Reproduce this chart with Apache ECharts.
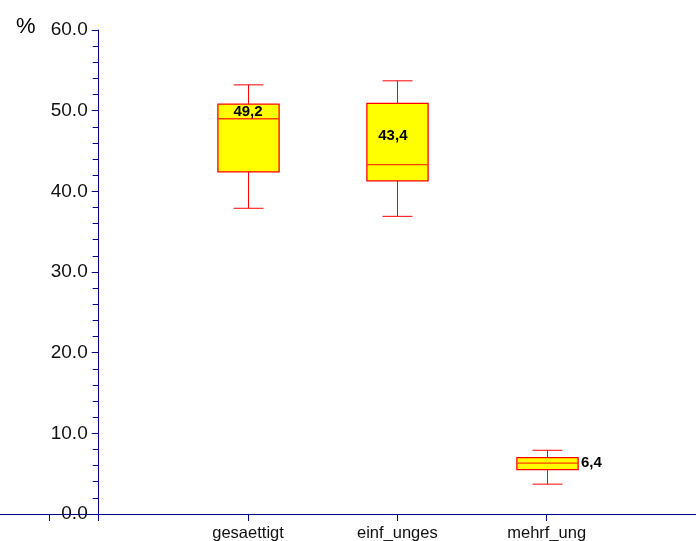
<!DOCTYPE html>
<html>
<head>
<meta charset="utf-8">
<script src="https://cdn.jsdelivr.net/npm/echarts@6/dist/echarts.min.js"></script>
<style>
  html, body { margin: 0; padding: 0; background: #fff; }
  #chart { width: 696px; height: 541px; }
</style>
</head>
<body>
<div id="chart"></div>
<script>
// categories and box statistics (low whisker, q1, median, q3, high whisker)
var categories = ['gesaettigt', 'einf_unges', 'mehrf_ung'];
var lowWhisker = [37.9, 36.9, 3.7];
var q1Values = [42.4, 41.3, 5.5];
var medianValues = [49.0, 43.3, 6.3];
var q3Values = [50.8, 50.9, 7.0];
var highWhisker = [53.2, 53.7, 7.9];

// value labels printed next to the boxes
var labelTexts = ['49,2', '43,4', '6,4'];
var labelX = [1.0, 1.97, 3.23];
var labelY = [49.8, 46.9, 6.3];
var labelAlign = ['center', 'center', 'left'];

var yTicks = [0, 10, 20, 30, 40, 50, 60];

var axisColor = '#00008b';
var xMin = -0.661;
var xMax = 4.0;
var chartWidth = 696;

var boxData = categories.map(function (c, i) {
  return [i + 1, lowWhisker[i], q1Values[i], medianValues[i], q3Values[i], highWhisker[i]];
});
var labelData = labelTexts.map(function (t, i) {
  return [labelX[i], labelY[i], t, labelAlign[i]];
});

var chart = echarts.init(document.getElementById('chart'));

// the y axis stands at x = 0 of the value x axis
var yAxisOffset = -chartWidth * (0 - xMin) / (xMax - xMin);

var option = {
  animation: false,
  title: {
    text: '%',
    left: 11,
    top: 11,
    textStyle: { fontFamily: 'Liberation Sans', fontSize: 22, fontWeight: 'normal', color: '#000' }
  },
  grid: { left: 0, right: 0, top: 30, bottom: 27, containLabel: false, outerBoundsMode: 'none' },
  xAxis: {
    type: 'value',
    min: xMin,
    max: xMax,
    splitLine: { show: false },
    axisLine: { onZero: false, lineStyle: { color: axisColor, width: 1 } },
    axisTick: {
      show: true,
      length: 7,
      customValues: [-0.33, 0, 1, 2, 3, 4],
      lineStyle: { color: axisColor }
    },
    axisLabel: {
      customValues: [1, 2, 3],
      margin: 11,
      fontFamily: 'Liberation Sans',
      fontSize: 16.5,
      color: '#111',
      formatter: function (v) { return categories[Math.round(v) - 1] || ''; }
    }
  },
  yAxis: {
    type: 'value',
    position: 'left',
    offset: yAxisOffset,
    min: yTicks[0],
    max: yTicks[yTicks.length - 1],
    interval: 10,
    splitLine: { show: false },
    axisLine: { show: true, onZero: false, lineStyle: { color: axisColor, width: 1 } },
    axisTick: { show: true, length: 7, lineStyle: { color: axisColor } },
    minorTick: { show: true, splitNumber: 5, length: 6, lineStyle: { color: axisColor } },
    axisLabel: {
      margin: 11,
      fontFamily: 'Liberation Sans',
      fontSize: 19,
      color: '#111',
      formatter: function (v) { return v.toFixed(1); }
    }
  },
  series: [
    {
      type: 'custom',
      data: boxData,
      encode: { x: 0, y: [1, 2, 3, 4, 5] },
      renderItem: function (params, api) {
        var x = api.value(0);
        var band = api.size([1, 0])[0];
        var halfBox = band * 0.205;
        var halfCap = band * 0.1;
        var pLow = api.coord([x, api.value(1)]);
        var pQ1 = api.coord([x, api.value(2)]);
        var pMed = api.coord([x, api.value(3)]);
        var pQ3 = api.coord([x, api.value(4)]);
        var pHigh = api.coord([x, api.value(5)]);
        var cx = Math.round(pLow[0]) + 0.5;
        var red = '#ff0000';
        return {
          type: 'group',
          children: [
            { type: 'line', shape: { x1: cx, y1: pLow[1], x2: cx, y2: pHigh[1] }, style: { stroke: red, lineWidth: 1 } },
            { type: 'line', shape: { x1: cx - halfCap, y1: pLow[1], x2: cx + halfCap, y2: pLow[1] }, style: { stroke: red, lineWidth: 1 } },
            { type: 'line', shape: { x1: cx - halfCap, y1: pHigh[1], x2: cx + halfCap, y2: pHigh[1] }, style: { stroke: red, lineWidth: 1 } },
            {
              type: 'rect',
              shape: { x: cx - halfBox, y: pQ3[1], width: halfBox * 2, height: pQ1[1] - pQ3[1] },
              style: { fill: '#ffff00', stroke: red, lineWidth: 1.3 }
            },
            { type: 'line', shape: { x1: cx - halfBox, y1: pMed[1], x2: cx + halfBox, y2: pMed[1] }, style: { stroke: '#ff4000', lineWidth: 1.3 } }
          ]
        };
      }
    },
    {
      type: 'custom',
      data: labelData,
      encode: { x: 0, y: 1 },
      z: 5,
      renderItem: function (params, api) {
        var p = api.coord([api.value(0), api.value(1)]);
        return {
          type: 'text',
          x: p[0],
          y: p[1],
          style: {
            text: labelTexts[params.dataIndex],
            textAlign: labelAlign[params.dataIndex],
            textVerticalAlign: 'middle',
            fontFamily: 'Liberation Sans',
            fontSize: 15,
            fontWeight: 'bold',
            fill: '#000'
          }
        };
      }
    }
  ]
};

chart.setOption(option);
</script>
</body>
</html>
